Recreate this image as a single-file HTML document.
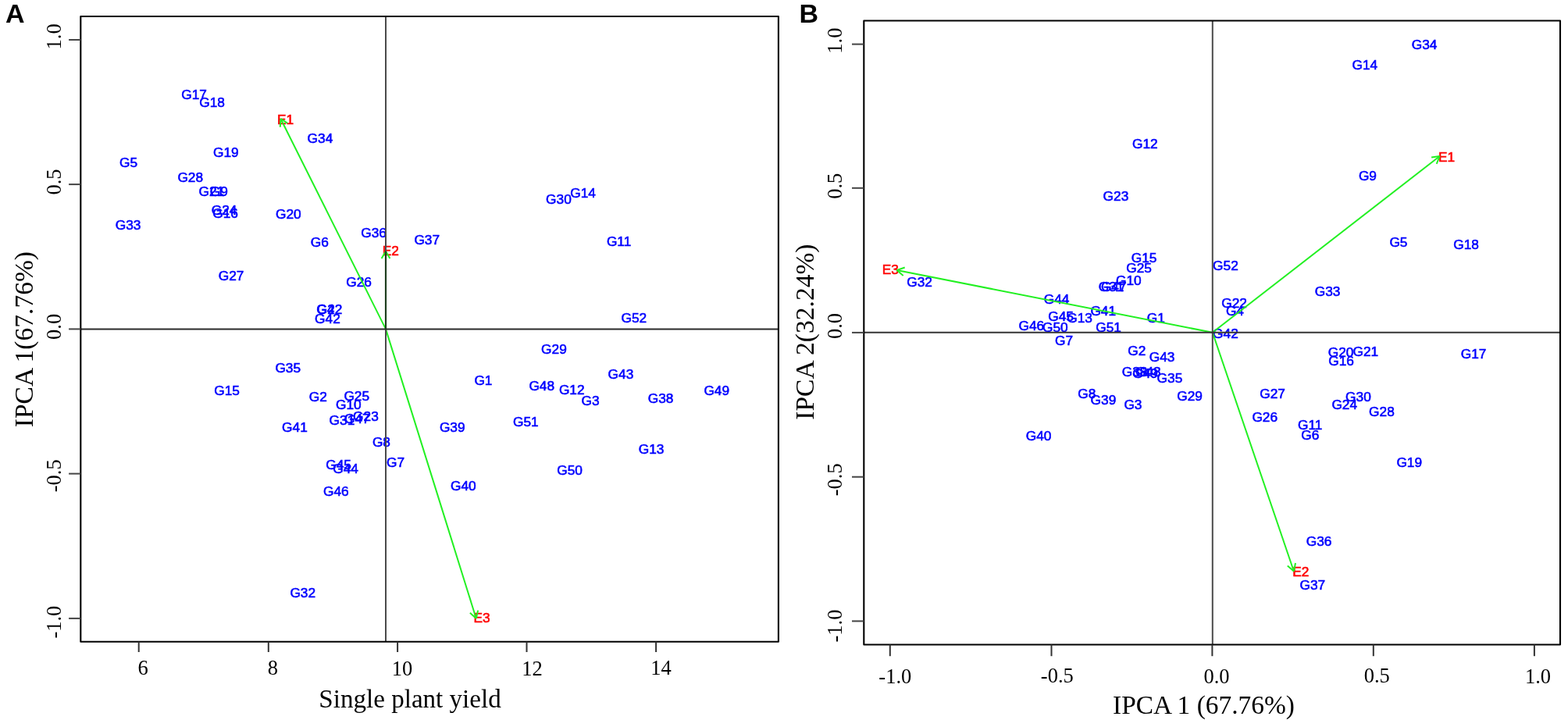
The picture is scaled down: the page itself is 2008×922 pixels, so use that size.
<!DOCTYPE html>
<html><head><meta charset="utf-8"><title>AMMI biplots</title>
<style>html,body{margin:0;padding:0;background:#fff;}body{width:2008px;height:922px;overflow:hidden;}svg{display:block;}.s{font-family:"Liberation Sans",Arial,sans-serif;}.r{font-family:"Liberation Serif","Times New Roman",serif;}.g{fill:#0000ff;stroke:#0000ff;stroke-width:0.6px;font-size:17.30px;}.e{fill:#ff0000;stroke:#ff0000;stroke-width:0.6px;font-size:17.30px;}.t{fill:#000;font-size:26.5px;}.ti{fill:#000;font-size:32.9px;}.pl{fill:#000;font-size:34px;font-weight:bold;}</style></head><body>
<svg width="2008" height="922" viewBox="0 0 2008 922">
<rect x="0" y="0" width="2008" height="922" fill="#fff"/>
<text class="s g" x="232.3" y="126.8">G17</text>
<text class="s g" x="255.3" y="136.6">G18</text>
<text class="s g" x="393.6" y="183.3">G34</text>
<text class="s g" x="273.0" y="200.9">G19</text>
<text class="s g" x="153.1" y="214.4">G5</text>
<text class="s g" x="227.4" y="233.4">G28</text>
<text class="s g" x="254.5" y="250.5">G21</text>
<text class="s g" x="268.7" y="250.5">G9</text>
<text class="s g" x="270.7" y="275.2">G24</text>
<text class="s g" x="272.2" y="278.6">G16</text>
<text class="s g" x="353.0" y="280.3">G20</text>
<text class="s g" x="147.7" y="294.4">G33</text>
<text class="s g" x="462.2" y="304.4">G36</text>
<text class="s g" x="397.7" y="316.4">G6</text>
<text class="s g" x="530.4" y="312.7">G37</text>
<text class="s g" x="279.7" y="359.3">G27</text>
<text class="s g" x="443.3" y="366.9">G26</text>
<text class="s g" x="405.3" y="401.9">G4</text>
<text class="s g" x="405.8" y="401.9">G22</text>
<text class="s g" x="403.1" y="414.1">G42</text>
<text class="s g" x="699.1" y="261.2">G30</text>
<text class="s g" x="730.2" y="253.1">G14</text>
<text class="s g" x="776.9" y="314.6">G11</text>
<text class="s g" x="795.5" y="412.7">G52</text>
<text class="s g" x="693.1" y="453.3">G29</text>
<text class="s g" x="352.4" y="477.0">G35</text>
<text class="s g" x="274.3" y="506.3">G15</text>
<text class="s g" x="395.8" y="514.4">G2</text>
<text class="s g" x="440.4" y="512.8">G25</text>
<text class="s g" x="430.0" y="523.8">G10</text>
<text class="s g" x="421.6" y="543.7">G31</text>
<text class="s g" x="441.0" y="541.9">G47</text>
<text class="s g" x="452.1" y="538.8">G23</text>
<text class="s g" x="361.1" y="553.1">G41</text>
<text class="s g" x="476.9" y="572.1">G8</text>
<text class="s g" x="495.1" y="597.8">G7</text>
<text class="s g" x="417.2" y="601.1">G45</text>
<text class="s g" x="426.2" y="606.0">G44</text>
<text class="s g" x="414.0" y="635.0">G46</text>
<text class="s g" x="371.4" y="765.2">G32</text>
<text class="s g" x="607.4" y="493.4">G1</text>
<text class="s g" x="677.4" y="499.7">G48</text>
<text class="s g" x="715.9" y="504.8">G12</text>
<text class="s g" x="744.6" y="519.2">G3</text>
<text class="s g" x="778.6" y="485.2">G43</text>
<text class="s g" x="829.7" y="515.6">G38</text>
<text class="s g" x="901.4" y="505.8">G49</text>
<text class="s g" x="562.9" y="553.1">G39</text>
<text class="s g" x="657.0" y="546.3">G51</text>
<text class="s g" x="817.8" y="580.7">G13</text>
<text class="s g" x="713.2" y="607.9">G50</text>
<text class="s g" x="577.0" y="627.7">G40</text>
<text class="s e" x="355.0" y="159.0">E1</text>
<text class="s e" x="489.8" y="327.3">E2</text>
<text class="s e" x="606.4" y="797.3">E3</text>
<line x1="494.0" y1="421.4" x2="359.4" y2="152.0" stroke="#22f022" stroke-width="2.00"/>
<line x1="359.4" y1="152.0" x2="368.3" y2="157.9" stroke="#22f022" stroke-width="2.00"/>
<line x1="359.4" y1="152.0" x2="358.8" y2="162.7" stroke="#22f022" stroke-width="2.00"/>
<line x1="494.0" y1="421.4" x2="494.0" y2="321.7" stroke="#22f022" stroke-width="2.00"/>
<line x1="494.0" y1="321.7" x2="499.4" y2="331.0" stroke="#22f022" stroke-width="2.00"/>
<line x1="494.0" y1="321.7" x2="488.6" y2="331.0" stroke="#22f022" stroke-width="2.00"/>
<line x1="494.0" y1="421.4" x2="609.8" y2="792.0" stroke="#22f022" stroke-width="2.00"/>
<line x1="609.8" y1="792.0" x2="601.9" y2="784.8" stroke="#22f022" stroke-width="2.00"/>
<line x1="609.8" y1="792.0" x2="612.1" y2="781.6" stroke="#22f022" stroke-width="2.00"/>
<line x1="494.0" y1="21.0" x2="494.0" y2="821.8" stroke="#4a4a4a" stroke-width="2.00"/>
<line x1="103.3" y1="421.4" x2="996.9" y2="421.4" stroke="#2a2a2a" stroke-width="2.00"/>
<line x1="494.0" y1="321.7" x2="494.0" y2="421.4" stroke="#1e3f1e" stroke-width="2.20"/>
<rect x="103.3" y="21.0" width="893.6" height="800.8" fill="none" stroke="#000" stroke-width="2.1" stroke-linejoin="round"/>
<line x1="177.7" y1="821.8" x2="177.7" y2="835.0" stroke="#333" stroke-width="2.00"/>
<text class="r t" x="183.05" y="864.45" text-anchor="middle">6</text>
<line x1="343.8" y1="821.8" x2="343.8" y2="835.0" stroke="#333" stroke-width="2.00"/>
<text class="r t" x="349.25" y="864.35" text-anchor="middle">8</text>
<line x1="509.1" y1="821.8" x2="509.1" y2="835.0" stroke="#333" stroke-width="2.00"/>
<text class="r t" x="514.95" y="864.50" text-anchor="middle">10</text>
<line x1="674.5" y1="821.8" x2="674.5" y2="835.0" stroke="#333" stroke-width="2.00"/>
<text class="r t" x="681.40" y="864.50" text-anchor="middle">12</text>
<line x1="840.1" y1="821.8" x2="840.1" y2="835.0" stroke="#333" stroke-width="2.00"/>
<text class="r t" x="846.60" y="864.35" text-anchor="middle">14</text>
<line x1="88.1" y1="51.0" x2="103.3" y2="51.0" stroke="#444" stroke-width="2.00"/>
<text class="r t" transform="translate(78.00 46.90) rotate(-90)" text-anchor="middle">1.0</text>
<line x1="88.1" y1="236.1" x2="103.3" y2="236.1" stroke="#444" stroke-width="2.00"/>
<text class="r t" transform="translate(77.95 233.05) rotate(-90)" text-anchor="middle">0.5</text>
<line x1="88.1" y1="421.4" x2="103.3" y2="421.4" stroke="#444" stroke-width="2.00"/>
<text class="r t" transform="translate(77.85 418.40) rotate(-90)" text-anchor="middle">0.0</text>
<line x1="88.1" y1="606.6" x2="103.3" y2="606.6" stroke="#444" stroke-width="2.00"/>
<text class="r t" transform="translate(77.80 609.25) rotate(-90)" text-anchor="middle">-0.5</text>
<line x1="88.1" y1="791.9" x2="103.3" y2="791.9" stroke="#444" stroke-width="2.00"/>
<text class="r t" transform="translate(77.75 796.65) rotate(-90)" text-anchor="middle">-1.0</text>
<text class="r ti" style="font-size:33.10px" x="525.05" y="906.10" text-anchor="middle">Single plant yield</text>
<text class="r ti" style="font-size:33.50px" transform="translate(42.10 434.65) rotate(-90)" text-anchor="middle">IPCA 1(67.76%)</text>
<text class="s g" x="1807.7" y="62.7">G34</text>
<text class="s g" x="1731.5" y="88.5">G14</text>
<text class="s g" x="1450.0" y="189.5">G12</text>
<text class="s g" x="1739.9" y="231.4">G9</text>
<text class="s g" x="1412.6" y="257.3">G23</text>
<text class="s g" x="1779.4" y="315.8">G5</text>
<text class="s g" x="1861.3" y="319.0">G18</text>
<text class="s g" x="1448.7" y="336.0">G15</text>
<text class="s g" x="1553.1" y="346.0">G52</text>
<text class="s g" x="1442.2" y="349.0">G25</text>
<text class="s g" x="1429.0" y="365.1">G10</text>
<text class="s g" x="1406.8" y="372.9">G31</text>
<text class="s g" x="1409.9" y="372.9">G47</text>
<text class="s g" x="1161.2" y="366.6">G32</text>
<text class="s g" x="1683.7" y="378.7">G33</text>
<text class="s g" x="1336.7" y="389.2">G44</text>
<text class="s g" x="1564.2" y="394.0">G22</text>
<text class="s g" x="1569.9" y="403.7">G4</text>
<text class="s g" x="1396.4" y="404.0">G41</text>
<text class="s g" x="1468.8" y="412.6">G1</text>
<text class="s g" x="1342.3" y="411.0">G45</text>
<text class="s g" x="1366.2" y="413.2">G13</text>
<text class="s g" x="1304.5" y="423.1">G46</text>
<text class="s g" x="1335.0" y="424.7">G50</text>
<text class="s g" x="1403.2" y="424.8">G51</text>
<text class="s g" x="1553.1" y="432.5">G42</text>
<text class="s g" x="1351.0" y="442.1">G7</text>
<text class="s g" x="1444.3" y="455.0">G2</text>
<text class="s g" x="1700.8" y="457.3">G20</text>
<text class="s g" x="1732.5" y="456.0">G21</text>
<text class="s g" x="1701.3" y="468.2">G16</text>
<text class="s g" x="1870.8" y="458.7">G17</text>
<text class="s g" x="1471.8" y="462.5">G43</text>
<text class="s g" x="1436.8" y="481.7">G38</text>
<text class="s g" x="1450.3" y="484.2">G49</text>
<text class="s g" x="1454.0" y="482.2">G48</text>
<text class="s g" x="1481.6" y="490.3">G35</text>
<text class="s g" x="1380.3" y="509.8">G8</text>
<text class="s g" x="1396.6" y="517.6">G39</text>
<text class="s g" x="1439.4" y="524.2">G3</text>
<text class="s g" x="1507.2" y="513.2">G29</text>
<text class="s g" x="1613.2" y="510.1">G27</text>
<text class="s g" x="1723.1" y="513.5">G30</text>
<text class="s g" x="1705.4" y="524.4">G24</text>
<text class="s g" x="1753.1" y="532.5">G28</text>
<text class="s g" x="1603.4" y="540.4">G26</text>
<text class="s g" x="1662.0" y="550.2">G11</text>
<text class="s g" x="1666.3" y="562.9">G6</text>
<text class="s g" x="1313.7" y="563.6">G40</text>
<text class="s g" x="1788.4" y="598.2">G19</text>
<text class="s g" x="1672.7" y="698.8">G36</text>
<text class="s g" x="1664.5" y="755.1">G37</text>
<text class="s e" x="1842.1" y="206.5">E1</text>
<text class="s e" x="1655.3" y="737.7">E2</text>
<text class="s e" x="1129.8" y="350.9">E3</text>
<line x1="1552.8" y1="425.8" x2="1843.7" y2="200.0" stroke="#22f022" stroke-width="2.00"/>
<line x1="1843.7" y1="200.0" x2="1839.7" y2="209.9" stroke="#22f022" stroke-width="2.00"/>
<line x1="1843.7" y1="200.0" x2="1833.1" y2="201.5" stroke="#22f022" stroke-width="2.00"/>
<line x1="1552.8" y1="425.8" x2="1656.9" y2="731.5" stroke="#22f022" stroke-width="2.00"/>
<line x1="1656.9" y1="731.5" x2="1648.8" y2="724.5" stroke="#22f022" stroke-width="2.00"/>
<line x1="1656.9" y1="731.5" x2="1659.0" y2="721.0" stroke="#22f022" stroke-width="2.00"/>
<line x1="1552.8" y1="425.8" x2="1148.6" y2="346.0" stroke="#22f022" stroke-width="2.00"/>
<line x1="1148.6" y1="346.0" x2="1158.7" y2="342.5" stroke="#22f022" stroke-width="2.00"/>
<line x1="1148.6" y1="346.0" x2="1156.7" y2="353.0" stroke="#22f022" stroke-width="2.00"/>
<line x1="1552.8" y1="26.5" x2="1552.8" y2="825.5" stroke="#4a4a4a" stroke-width="2.00"/>
<line x1="1106.3" y1="425.8" x2="1998.0" y2="425.8" stroke="#333333" stroke-width="2.00"/>
<rect x="1106.3" y="26.5" width="891.7" height="799.0" fill="none" stroke="#000" stroke-width="2.1" stroke-linejoin="round"/>
<line x1="1139.8" y1="825.5" x2="1139.8" y2="840.2" stroke="#333" stroke-width="2.00"/>
<text class="r t" x="1146.30" y="874.55" text-anchor="middle">-1.0</text>
<line x1="1346.5" y1="825.5" x2="1346.5" y2="840.2" stroke="#333" stroke-width="2.00"/>
<text class="r t" x="1353.85" y="874.35" text-anchor="middle">-0.5</text>
<line x1="1552.4" y1="825.5" x2="1552.4" y2="840.2" stroke="#333" stroke-width="2.00"/>
<text class="r t" x="1557.95" y="874.55" text-anchor="middle">0.0</text>
<line x1="1758.8" y1="825.5" x2="1758.8" y2="840.2" stroke="#333" stroke-width="2.00"/>
<text class="r t" x="1763.20" y="874.35" text-anchor="middle">0.5</text>
<line x1="1964.9" y1="825.5" x2="1964.9" y2="840.2" stroke="#333" stroke-width="2.00"/>
<text class="r t" x="1969.45" y="874.55" text-anchor="middle">1.0</text>
<line x1="1091.0" y1="56.6" x2="1106.3" y2="56.6" stroke="#444" stroke-width="2.00"/>
<text class="r t" transform="translate(1078.45 52.10) rotate(-90)" text-anchor="middle">1.0</text>
<line x1="1091.0" y1="240.8" x2="1106.3" y2="240.8" stroke="#444" stroke-width="2.00"/>
<text class="r t" transform="translate(1078.40 238.30) rotate(-90)" text-anchor="middle">0.5</text>
<line x1="1091.0" y1="425.9" x2="1106.3" y2="425.9" stroke="#444" stroke-width="2.00"/>
<text class="r t" transform="translate(1078.40 417.50) rotate(-90)" text-anchor="middle">0.0</text>
<line x1="1091.0" y1="610.7" x2="1106.3" y2="610.7" stroke="#444" stroke-width="2.00"/>
<text class="r t" transform="translate(1078.35 614.25) rotate(-90)" text-anchor="middle">-0.5</text>
<line x1="1091.0" y1="795.4" x2="1106.3" y2="795.4" stroke="#444" stroke-width="2.00"/>
<text class="r t" transform="translate(1078.40 801.55) rotate(-90)" text-anchor="middle">-1.0</text>
<text class="r ti" style="font-size:33.40px" x="1541.45" y="913.50" text-anchor="middle">IPCA 1 (67.76%)</text>
<text class="r ti" style="font-size:33.50px" transform="translate(1041.90 425.15) rotate(-90)" text-anchor="middle">IPCA 2(32.24%)</text>
<text class="s pl" x="6.95" y="28.90">A</text>
<text class="s pl" x="1023.50" y="28.90">B</text>
</svg></body></html>
